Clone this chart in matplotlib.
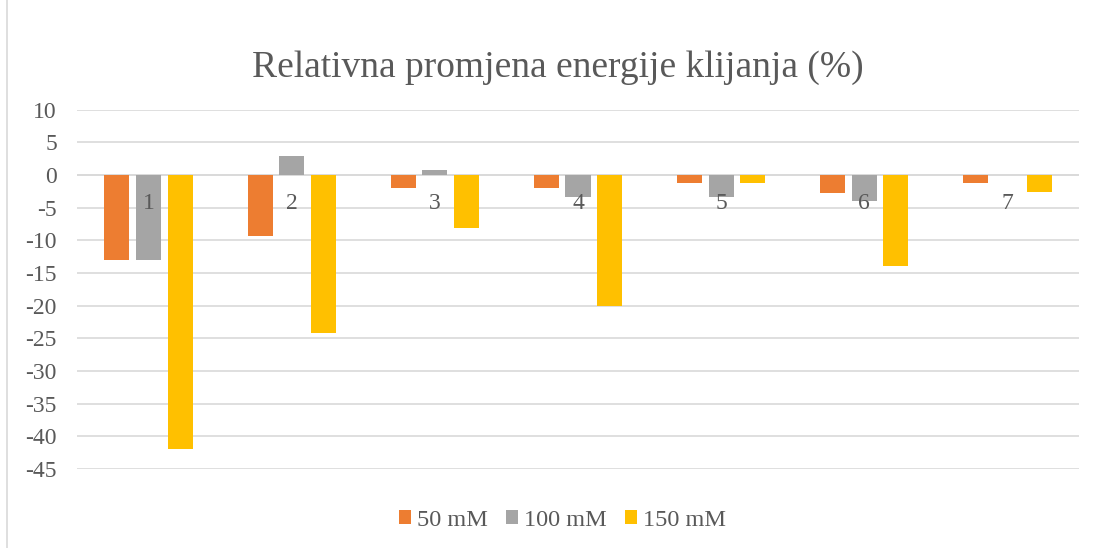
import matplotlib
matplotlib.use("Agg")
import matplotlib.pyplot as plt
import numpy as np
from matplotlib.patches import Rectangle

categories = ["1", "2", "3", "4", "5", "6", "7"]
series_names = ["50 mM", "100 mM", "150 mM"]
v50 = [-13.0, -9.4, -2.0, -2.0, -1.3, -2.7, -1.3]
v100 = [-13.0, 2.9, 0.7, -3.4, -3.4, -4.0, 0.0]
v150 = [-42.0, -24.2, -8.1, -20.0, -1.3, -14.0, -2.6]
colors = ["#ED7D31", "#A5A5A5", "#FFC000"]
yticks = [10, 5, 0, -5, -10, -15, -20, -25, -30, -35, -40, -45]

plt.rcParams['font.family'] = ['Liberation Serif', 'DejaVu Serif']
txt = "#595959"

fig = plt.figure(figsize=(10.97, 5.48), dpi=100)
fig.patches.append(Rectangle((0.006, -0.01), 1.0, 1.02, transform=fig.transFigure,
                             fill=False, edgecolor="#d9d9d9", linewidth=1.2))
ax = fig.add_axes([77 / 1097, 1 - 469 / 548, (1079 - 77) / 1097, (469 - 109.5) / 548])

x = np.arange(len(categories))
w = 0.175
step = 0.221
for i, (vals, name) in enumerate(zip([v50, v100, v150], series_names)):
    ax.bar(x + (i - 1) * step, vals, width=w, color=colors[i], label=name, zorder=3)

ax.set_ylim(-45, 10)
ax.set_xlim(-0.5, len(categories) - 0.5)
ax.set_yticks(yticks)
ax.set_yticklabels([str(t) for t in yticks], fontsize=17, color=txt)
ax.tick_params(axis='y', length=0, pad=14.4)
ax.set_xticks([])
ax.grid(axis='y', color="#d9d9d9", linewidth=1.2, zorder=0)
for s in ax.spines.values():
    s.set_visible(False)
ax.axhline(0, color="#d9d9d9", linewidth=1.2, zorder=1)

for xi, c in zip(x, categories):
    ax.annotate(c, (xi, 0), xytext=(0, -13), textcoords='offset points',
                ha='center', va='top', fontsize=17, color=txt, zorder=4)

fig.text(557.5 / 1097, 1 - 68 / 548, "Relativna promjena energije klijanja (%)",
         ha='center', va='center', fontsize=27, color=txt)

leg = fig.legend(loc='center', bbox_to_anchor=(562.5 / 1097, 1 - 520 / 548), ncol=3,
                 frameon=False, fontsize=17.5, handlelength=0.5, handleheight=0.5,
                 handletextpad=0.25, columnspacing=0.75)
for t in leg.get_texts():
    t.set_color(txt)

fig.savefig("out.png", dpi=100)
